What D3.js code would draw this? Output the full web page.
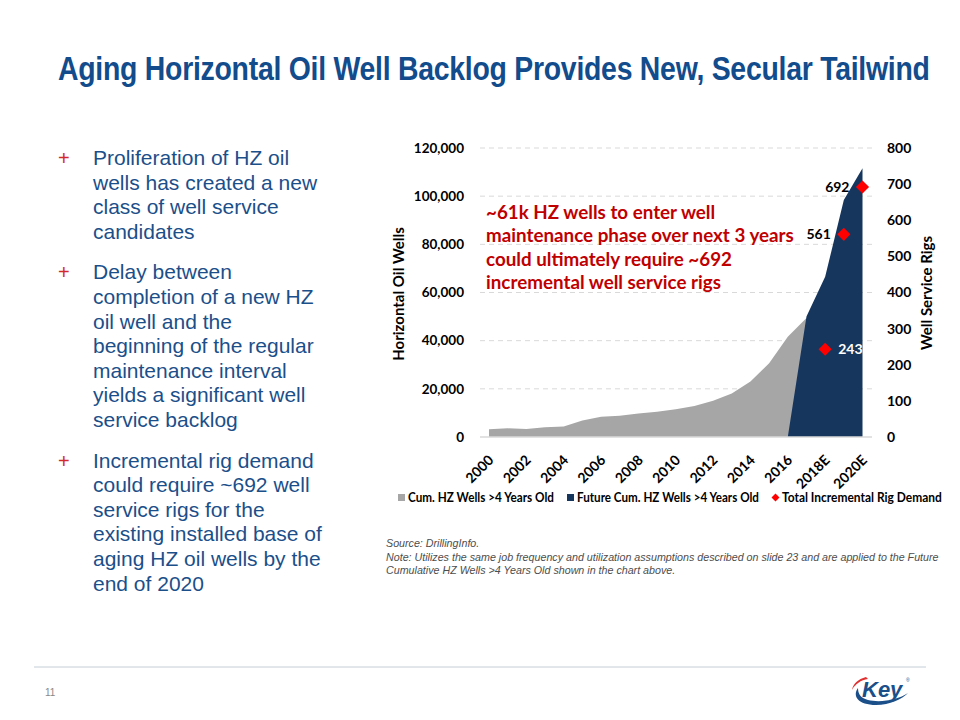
<!DOCTYPE html>
<html><head><meta charset="utf-8">
<script src="https://cdn.jsdelivr.net/npm/d3@7"></script>
<style>
body{margin:0;background:#fff;}
svg{display:block;}
</style></head>
<body>
<svg id="c" width="960" height="720"></svg>
<script>
// ---- data ----
const years = ["2000","2001","2002","2003","2004","2005","2006","2007","2008","2009","2010","2011","2012","2013","2014","2015","2016","2017","2018E","2019E","2020E"];
const tickLabels = ["2000","2002","2004","2006","2008","2010","2012","2014","2016","2018E","2020E"];
const cumWells = [3200,3600,3300,4000,4400,6800,8400,8850,9800,10500,11500,12900,15100,18100,23000,30600,41600,49400,null,null,null];
const futureWells = [null,null,null,null,null,null,null,null,null,null,null,null,null,null,null,null,0,50000,66500,98400,111600];
const rigDemand = [null,null,null,null,null,null,null,null,null,null,null,null,null,null,null,null,null,null,243,561,692];
const leftTicks = [0,20000,40000,60000,80000,100000,120000];
const rightTicks = [0,100,200,300,400,500,600,700,800];
const bullets = [
  ["Proliferation of HZ oil","wells has created a new","class of well service","candidates"],
  ["Delay between","completion of a new HZ","oil well and the","beginning of the regular","maintenance interval","yields a significant well","service backlog"],
  ["Incremental rig demand","could require ~692 well","service rigs for the","existing installed base of","aging HZ oil wells by the","end of 2020"]
];
const annotation = ["~61k HZ wells to enter well","maintenance phase over next 3 years","could ultimately require ~692","incremental well service rigs"];
const legendItems = ["Cum. HZ Wells >4 Years Old","Future Cum. HZ Wells >4 Years Old","Total Incremental Rig Demand"];

const svg = d3.select("#c");
const F = "Lato, 'Open Sans', sans-serif";
const A = "'Liberation Sans', Arial, sans-serif";

// fit a text element horizontally to a target width by scaling
function fitWidth(sel, x0, target){
  const w = sel.node().getComputedTextLength();
  const s = target / w;
  sel.attr("x",0).attr("transform",`translate(${x0},${sel.attr("y")}) scale(${s},1)`).attr("y",0);
}

// Title
const title = svg.append("text").attr("x",58).attr("y",80)
  .attr("font-family",A).attr("font-weight","bold").attr("font-size",33)
  .attr("fill","#124c8c").attr("letter-spacing",-0.3)
  .text("Aging Horizontal Oil Well Backlog Provides New, Secular Tailwind");
fitWidth(title,58,872);

// Bullets
let ly = 165;
const lh = 24.6;
bullets.forEach((b,i)=>{
  svg.append("text").attr("x",58).attr("y",ly).attr("font-family",A).attr("font-size",20)
    .attr("fill","#d42a2a").text("+");
  b.forEach((line,j)=>{
    svg.append("text").attr("x",93).attr("y",ly+j*lh).attr("font-family",A).attr("font-size",21)
      .attr("fill","#1b4f8a").text(line);
  });
  ly += b.length*lh + 16;
});

// Chart scales
const x = d3.scalePoint().domain(years).range([489,862.5]);
const y = d3.scaleLinear().domain([0,120000]).range([437,148]);
const y2 = d3.scaleLinear().domain([0,800]).range([437,148]);
const plotL = 480, plotR = 872;

// gridlines
svg.append("g").selectAll("line").data(leftTicks.slice(1)).join("line")
  .attr("x1",plotL).attr("x2",plotR).attr("y1",d=>y(d)).attr("y2",d=>y(d))
  .attr("stroke","#d9d9d9").attr("stroke-width",1).attr("stroke-dasharray","5,4");

// areas
const area = d3.area().defined(d=>d[1]!=null).x(d=>x(d[0])).y0(y(0)).y1(d=>y(d[1]));
svg.append("path").datum(years.map((yr,i)=>[yr,cumWells[i]])).attr("d",area).attr("fill","#a6a6a6");
svg.append("path").datum(years.map((yr,i)=>[yr,futureWells[i]])).attr("d",area).attr("fill","#17365d");

// baseline
svg.append("line").attr("x1",plotL).attr("x2",plotR).attr("y1",y(0)).attr("y2",y(0))
  .attr("stroke","#d9d9d9").attr("stroke-width",1.5);

// left axis
const la = svg.append("g").attr("transform",`translate(464,0)`)
  .call(d3.axisLeft(y).tickValues(leftTicks).tickSize(0).tickPadding(0).tickFormat(d3.format(",")));
la.select(".domain").remove();
la.selectAll("text").attr("font-family",F).attr("font-weight","bold").attr("font-size",13.5).attr("fill","#000");

// right axis
const ra = svg.append("g").attr("transform",`translate(887,0)`)
  .call(d3.axisRight(y2).tickValues(rightTicks).tickSize(0).tickPadding(0));
ra.select(".domain").remove();
ra.selectAll("text").attr("font-family",F).attr("font-weight","bold").attr("font-size",14).attr("fill","#000");

// x axis labels
const xa = svg.append("g").attr("transform",`translate(0,${y(0)})`)
  .call(d3.axisBottom(x).tickValues(tickLabels.map(t=>years.find(y=>y===t))).tickSize(0).tickPadding(0));
xa.select(".domain").remove();
xa.selectAll("text").attr("font-family",F).attr("font-weight","bold").attr("font-size",14).attr("fill","#000")
  .attr("text-anchor","end").attr("dy",0).attr("y",0)
  .attr("transform","translate(5,24) rotate(-45)");

// axis titles
svg.append("text").attr("transform","translate(404,294) rotate(-90)").attr("text-anchor","middle")
  .attr("font-family",F).attr("font-weight","bold").attr("font-size",15).attr("fill","#000").text("Horizontal Oil Wells");
svg.append("text").attr("transform","translate(932,293) rotate(-90)").attr("text-anchor","middle")
  .attr("font-family",F).attr("font-weight","bold").attr("font-size",15).attr("fill","#000").text("Well Service Rigs");

// diamonds
const diamond = d3.symbol().type(d3.symbolDiamond2).size(110);
const pts = years.map((yr,i)=>[yr,rigDemand[i]]).filter(d=>d[1]!=null);
svg.append("g").selectAll("path").data(pts).join("path")
  .attr("d",diamond).attr("transform",d=>`translate(${x(d[0])},${y2(d[1])})`).attr("fill","#ff0000");
// data labels
svg.append("g").selectAll("text").data(pts).join("text")
  .attr("x",(d,i)=> i===0 ? x(d[0])+13 : x(d[0])-13)
  .attr("y",d=>y2(d[1])+5)
  .attr("text-anchor",(d,i)=> i===0 ? "start":"end")
  .attr("font-family",F).attr("font-weight","bold").attr("font-size",14)
  .attr("fill",(d,i)=> i===0 ? "#fff" : "#000")
  .text(d=>d[1]);

// annotation
annotation.forEach((t,i)=>{
  svg.append("text").attr("x",486).attr("y",219+i*23.4).attr("font-family",F).attr("font-weight","bold")
    .attr("font-size",18.8).attr("fill","#c00000").text(t);
});

// legend
const lg = svg.append("g").attr("font-family",F).attr("font-weight","bold").attr("font-size",12.5);
const lx = [398,567,772];
const lw = [146,182,160];
lg.append("rect").attr("x",lx[0]).attr("y",494).attr("width",7).attr("height",7).attr("fill","#a6a6a6");
lg.append("rect").attr("x",lx[1]).attr("y",494).attr("width",7).attr("height",7).attr("fill","#17365d");
lg.append("path").attr("d",d3.symbol().type(d3.symbolDiamond2).size(40)).attr("transform",`translate(${lx[2]+3.5},497.5)`).attr("fill","#ff0000");
legendItems.forEach((t,i)=>{
  const tx = lg.append("text").attr("x",lx[i]+10).attr("y",502).attr("fill","#000").text(t);
  fitWidth(tx, lx[i]+10, lw[i]);
});

// source note
const notes = ["Source: DrillingInfo.","Note: Utilizes the same job frequency and utilization assumptions described on slide 23 and are applied to the Future","Cumulative HZ Wells >4 Years Old shown in the chart above."];
notes.forEach((t,i)=>{
  svg.append("text").attr("x",386).attr("y",547+i*13.5).attr("font-family",A).attr("font-style","italic")
    .attr("font-size",10.7).attr("fill","#4d4d4d").text(t);
});

// footer
svg.append("line").attr("x1",34).attr("x2",926).attr("y1",667).attr("y2",667).attr("stroke","#c5ced8").attr("stroke-width",1);
svg.append("text").attr("x",45).attr("y",696).attr("font-family",A).attr("font-size",10).attr("fill","#888").text("11");
// logo
const logo = svg.append("g");
logo.append("path").attr("d","M858,688 C852,696 858,705 876,705 C890,705 902,699 908,693 C898,700 880,703 868,700 C860,698 858,693 858,688 Z").attr("fill","#1b4f8a");
logo.append("path").attr("d","M866,677 C858,679 853,684 852,690 C855,684 861,680 868,679 Z").attr("fill","#e03030");
logo.append("text").attr("x",862).attr("y",697).attr("font-family",A).attr("font-weight","bold").attr("font-style","italic")
  .attr("font-size",22).attr("fill","#1b4f8a").text("Key");
logo.append("text").attr("x",906).attr("y",682).attr("font-family",A).attr("font-size",5).attr("fill","#1b4f8a").text("®");
</script>
</body></html>
